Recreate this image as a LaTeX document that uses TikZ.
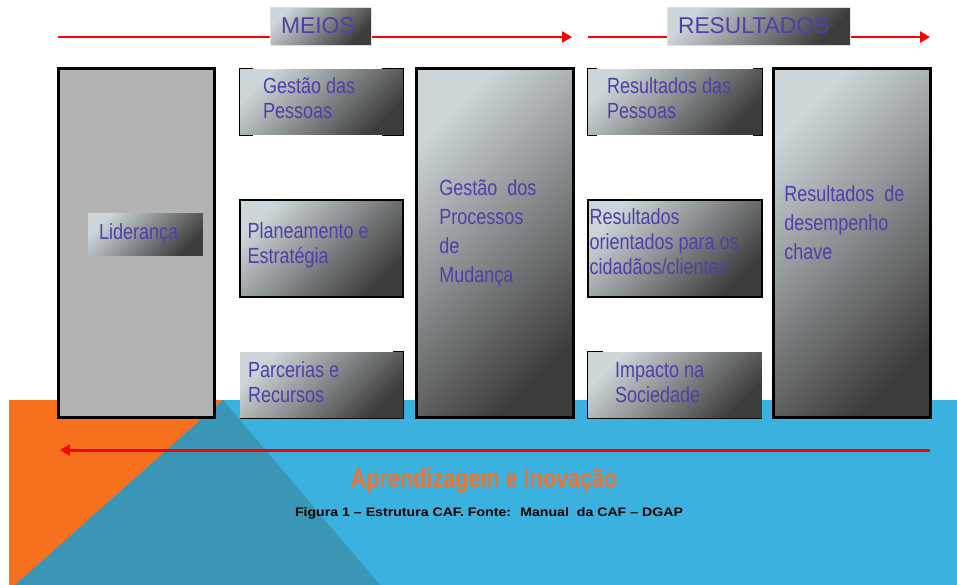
\documentclass[tikz,border=0pt]{standalone}
\usepackage{fontspec}
\setmainfont{Liberation Sans}
\newfontfamily\narrowsans[FakeStretch=0.82]{Liberation Sans}
\newfontfamily\widesans[FakeStretch=1.15]{Liberation Sans}
\usetikzlibrary{arrows.meta,positioning}
\definecolor{txtblue}{RGB}{75,65,170}
\definecolor{seablue}{RGB}{59,177,224}
\definecolor{seateal}{RGB}{58,150,180}
\definecolor{bgorange}{RGB}{246,112,30}
\definecolor{txtorange}{RGB}{242,112,40}
\definecolor{lidgray}{RGB}{179,179,179}
\definecolor{shadelight}{RGB}{205,213,216}
\definecolor{shademid}{RGB}{160,166,169}
\definecolor{shadedark}{RGB}{60,60,60}
\newcommand\cellfont{\narrowsans\fontsize{12.5}{14.2}\selectfont}
\newcommand\pillarfont{\narrowsans\fontsize{12.5}{16.4}\selectfont}

\tikzset{
  metal/.style={shading=axis, top color=shadelight, middle color=shademid,
    bottom color=shadedark, shading angle=45},
  frame/.style={draw=black, line width=1.7pt, minimum width=3.14cm,
    minimum height=7cm, inner sep=0pt},
  pillar/.style={frame, metal},
  cell/.style={metal, minimum height=#1, inner sep=0pt},
  rim/.style={draw=black, line width=0.9pt},
  tag/.style={metal, draw=gray!25, line width=0.4pt, minimum height=0.76cm,
    inner xsep=0.22cm, align=left, text=txtblue, font=\fontsize{13}{15}\selectfont},
  celltext/.style={anchor=west, inner sep=0pt, align=left, text=txtblue, font=\cellfont},
  pillartext/.style={anchor=north west, inner sep=0pt, align=left, text=txtblue, font=\pillarfont},
  redarrow/.style={draw=red, line width=1.7pt, -{Triangle[length=0.2cm,width=0.22cm]}}
}

\begin{document}
\begin{tikzpicture}[x=0.02cm,y=-0.02cm]
\useasboundingbox (0,0) rectangle (957,585);
\fill[seablue] (9,400) rectangle (957,585);
\fill[bgorange] (9,400) -- (223,400) -- (15,585) -- (9,585) -- cycle;
\fill[seateal] (223,400) -- (15,585) -- (380,585) -- cycle;

\coordinate (meiosA) at (58,37);
\coordinate (meiosB) at (572,37);
\coordinate (resA) at (588,37);
\coordinate (resB) at (930,37);
\coordinate (learnA) at (930,450);
\coordinate (learnB) at (60,450);
\draw[redarrow] (meiosA) -- (meiosB);
\draw[redarrow] (resA) -- (resB);
\draw[redarrow] (learnA) -- (learnB);
\node[tag, minimum width=2.02cm, text width=1.58cm] (meios) at (320.5,26) {MEIOS};
\node[tag, minimum width=3.66cm, text width=3.22cm] (resultados) at (758.5,26) {RESULTADOS};

\node[frame, fill=lidgray] (lid) at (136.5,243) {};
\node[tag, font=\cellfont, minimum width=2.3cm, minimum height=0.84cm, text width=1.86cm,
  draw=none] (lidtag) at (145.5,234) {Liderança};

\node[cell=1.32cm, minimum width=3.26cm] (gp) at (321.5,102) {};
\node[cell=1.94cm, minimum width=3.26cm, rim] (pe) at (321.5,248.5) {};
\node[cell=1.32cm, minimum width=3.26cm] (pr) at (321.5,385) {};
\draw[rim] ([shift={(13,0)}]gp.north west) -| (gp.south west) -- ++(13,0);
\draw[rim] ([shift={(-21,0)}]gp.north east) -| (gp.south east) -- ++(-21,0);
\draw[rim] ([shift={(-10,0)}]pr.north east) -| (pr.south east) -- (pr.south west);
\node[celltext] (gptext) at ([shift={(23,-4)}]gp.west) {Gestão das\\Pessoas};
\node[celltext] (petext) at ([shift={(8,-3)}]pe.west) {Planeamento e\\Estratégia};
\node[celltext] (prtext) at ([shift={(8,-3)}]pr.west) {Parcerias e\\Recursos};

\node[pillar] (gpm) at (495,243) {};
\node[pillartext] (gpmtext) at ([shift={(24,113)}]gpm.north west)
  {Gestão~ dos\\Processos\\de\\Mudança};

\node[cell=1.32cm, minimum width=3.48cm] (rp) at (675,102) {};
\node[cell=1.94cm, minimum width=3.48cm, rim] (rc) at (675,248.5) {};
\node[cell=1.32cm, minimum width=3.48cm] (is) at (675,385) {};
\draw[rim] ([shift={(9,0)}]rp.north west) -| (rp.south west) -- ++(9,0);
\draw[rim] ([shift={(-9,0)}]rp.north east) -| (rp.south east) -- ++(-9,0);
\draw[rim] ([shift={(15,0)}]is.north west) -| (is.south west) -- (is.south east);
\node[celltext] (rptext) at ([shift={(19,-4)}]rp.west) {Resultados das\\Pessoas};
\node[celltext] (rctext) at ([shift={(2,-7)}]rc.west)
  {Resultados\\orientados para os\\cidadãos/clientes};
\node[celltext] (istext) at ([shift={(27,-2)}]is.west) {Impacto na\\Sociedade};

\node[pillar] (rd) at (852,243) {};
\node[pillartext] (rdtext) at ([shift={(12,119)}]rd.north west)
  {Resultados~ de\\desempenho\\chave};

\node[text=txtorange, font=\narrowsans\bfseries\fontsize{15}{17}\selectfont] (learn)
  at (484,481) {Aprendizagem e Inovação};
\node[font=\widesans\bfseries\fontsize{7}{8}\selectfont] (caption) at (489,513)
  {Figura 1 – Estrutura CAF. Fonte:~ Manual~ da CAF – DGAP};
\end{tikzpicture}
\end{document}
